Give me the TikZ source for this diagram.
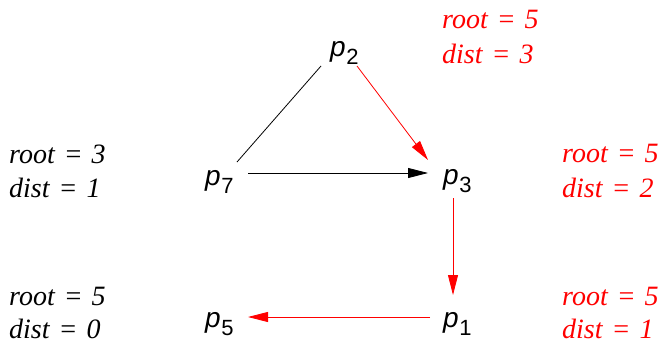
\documentclass[tikz,border=0pt]{standalone}
\usepackage{fontspec}
\setmainfont{Liberation Serif}
\setsansfont{Liberation Sans}
\usetikzlibrary{arrows.meta}
\definecolor{myred}{RGB}{255,0,0}
\newcommand{\pnode}[1]{{\sffamily\fontsize{28}{28}\selectfont\itshape p}\kern0.5pt\raisebox{-8pt}{\sffamily\fontsize{22}{22}\selectfont #1}}
\newcommand{\labfont}{\rmfamily\fontsize{28}{28}\selectfont\itshape\spaceskip=9pt\relax}
\begin{document}
\begin{tikzpicture}[x=1pt,y=-1pt,
  pn/.style={inner sep=0pt,anchor=base west},
  lab/.style={inner sep=0pt,anchor=base west,font=\labfont},
  redlab/.style={lab,text=myred},
  edge/.style={line width=0.8pt},
  arr/.style={edge,-{Triangle[length=20pt,width=10pt]}},
  redarr/.style={arr,draw=myred}]
\useasboundingbox (0,0) rectangle (662,343);
% process nodes
\node[pn] (p2) at (330,56) {\pnode{2}};
\node[pn] (p7) at (205,185) {\pnode{7}};
\node[pn] (p3) at (443,184) {\pnode{3}};
\node[pn] (p1) at (443,327) {\pnode{1}};
\node[pn] (p5) at (205,327) {\pnode{5}};
% labels
\node[redlab] (r2) at (442,28) {root = 5};
\node[redlab] (d2) at (442,63) {dist = 3};
\node[lab] (r7) at (9,163) {root = 3};
\node[lab] (d7) at (9,197) {dist = 1};
\node[redlab] (r3) at (562,162) {root = 5};
\node[redlab] (d3) at (562,197) {dist = 2};
\node[lab] (r5) at (9,305) {root = 5};
\node[lab] (d5) at (9,338) {dist = 0};
\node[redlab] (r1) at (562,305) {root = 5};
\node[redlab] (d1) at (562,338) {dist = 1};
% connector ends
\coordinate (a27) at (321,66);
\coordinate (b27) at (237,162);
\coordinate (a23) at (357,66);
\coordinate (b23) at (428,160);
\coordinate (a73) at (248,173);
\coordinate (b73) at (428,173);
\coordinate (a31) at (453,198);
\coordinate (b31) at (453,295);
\coordinate (a15) at (430,317);
\coordinate (b15) at (248,317);
% connectors
\draw[edge] (a27) -- (b27);
\draw[redarr] (a23) -- (b23);
\draw[arr] (a73) -- (b73);
\draw[redarr] (a31) -- (b31);
\draw[redarr] (a15) -- (b15);
\end{tikzpicture}
\end{document}
